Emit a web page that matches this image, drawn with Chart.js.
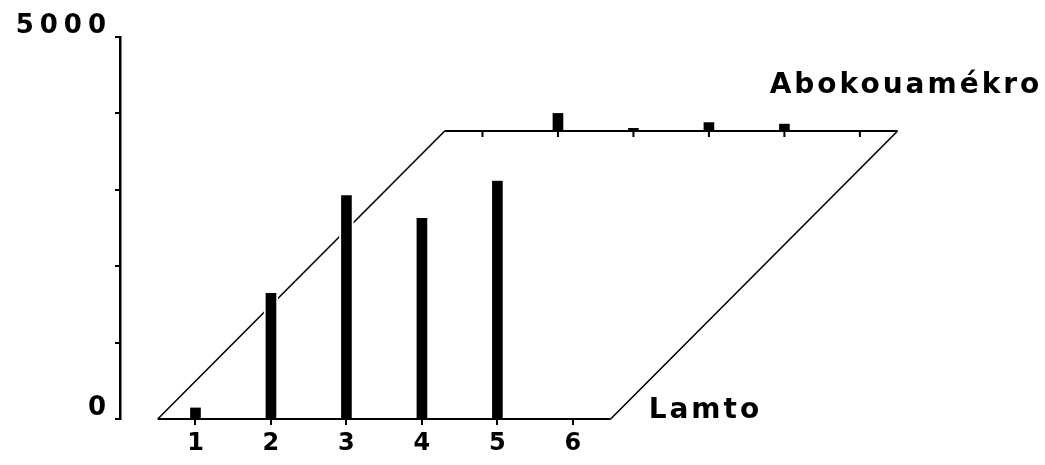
<!DOCTYPE html>
<html>
<head>
<meta charset="utf-8">
<script src="https://cdn.jsdelivr.net/npm/chart.js@4"></script>
<style>
  body { margin: 0; background: #fff; }
</style>
</head>
<body>
<canvas id="chart" width="1045" height="465"></canvas>
<script>
// Data
const categories = ["1", "2", "3", "4", "5", "6"];
const seriesNames = ["Lamto", "Abokouamékro"];
const lamto = [150, 1650, 2930, 2630, 3120, 0];
const abokouamekro = [0, 230, 35, 110, 90, 0];
const yTicks = [0, 1000, 2000, 3000, 4000, 5000];
const yTickLabels = ["0", "", "", "", "", "5000"];

// back row is drawn shifted by this (pixels)
const depth = { dx: 287, dy: -288 };
const fontFamily = "'DejaVu Sans', 'Liberation Sans', sans-serif";
const axisSpacing = 6;

const points = (vals) => categories.map((c, i) => ({ x: Number(c), y: vals[i] }));

const floorPlugin = {
  id: "floor",
  beforeDraw(chart) {
    chart.ctx.letterSpacing = axisSpacing + "px";
  },
  beforeDatasetsDraw(chart) {
    const { ctx, scales: { x, y } } = chart;
    const x0 = x.getPixelForValue(Number(categories[0]) - 0.5);
    const x1 = x.getPixelForValue(Number(categories[categories.length - 1]) + 0.5);
    const y0 = y.getPixelForValue(0);
    ctx.save();
    ctx.strokeStyle = "#000";
    ctx.lineWidth = 1.6;
    ctx.beginPath();
    ctx.moveTo(x0, y0);
    ctx.lineTo(x0 + depth.dx, y0 + depth.dy);
    ctx.moveTo(x1, y0);
    ctx.lineTo(x1 + depth.dx, y0 + depth.dy);
    ctx.stroke();
    ctx.restore();
  },
  beforeDatasetDraw(chart, args) {
    if (args.index === 1) {
      chart.ctx.save();
      chart.ctx.translate(depth.dx, depth.dy);
    }
  },
  afterDatasetDraw(chart, args) {
    if (args.index === 1) chart.ctx.restore();
  },
  afterDatasetsDraw(chart) {
    const { ctx, scales: { x, y } } = chart;
    const x0 = x.getPixelForValue(Number(categories[0]) - 0.5);
    const x1 = x.getPixelForValue(Number(categories[categories.length - 1]) + 0.5);
    const y0 = y.getPixelForValue(0);
    ctx.save();
    ctx.strokeStyle = "#000";
    ctx.lineWidth = 2.2;
    ctx.beginPath();
    ctx.moveTo(x0, y0);
    ctx.lineTo(x1, y0);
    ctx.moveTo(x0 + depth.dx, y0 + depth.dy);
    ctx.lineTo(x1 + depth.dx, y0 + depth.dy);
    ctx.stroke();
    // tick marks under the back row
    ctx.lineWidth = 2;
    ctx.beginPath();
    categories.forEach((c) => {
      const px = x.getPixelForValue(Number(c)) + depth.dx;
      ctx.moveTo(px, y0 + depth.dy);
      ctx.lineTo(px, y0 + depth.dy + 6);
    });
    ctx.stroke();
    // series names
    ctx.fillStyle = "#000";
    ctx.font = "bold 28px " + fontFamily;
    ctx.letterSpacing = "3px";
    ctx.textAlign = "left";
    ctx.textBaseline = "alphabetic";
    ctx.fillText(seriesNames[0], x1 + 38, y0 - 1);
    ctx.fillText(seriesNames[1], x1 + depth.dx - 128, y0 + depth.dy - 38);
    ctx.restore();
  },
};

new Chart(document.getElementById("chart"), {
  type: "bar",
  data: {
    datasets: [
      {
        label: seriesNames[0],
        data: points(lamto),
        backgroundColor: "#000",
        borderColor: "#fff",
        borderWidth: { left: 2, right: 2, top: 0, bottom: 0 },
        borderSkipped: false,
        barThickness: 14,
      },
      {
        label: seriesNames[1],
        data: points(abokouamekro),
        backgroundColor: "#000",
        borderWidth: 0,
        barThickness: 10,
      },
    ],
  },
  options: {
    responsive: false,
    animation: false,
    clip: false,
    layout: { padding: { top: 37, right: 140, left: 0, bottom: 0 } },
    datasets: { bar: { grouped: false } },
    plugins: { legend: { display: false }, tooltip: { enabled: false } },
    scales: {
      x: {
        type: "linear",
        offset: false,
        min: 0,
        max: 10.4,
        afterFit: (s) => { s.height = 46; },
        afterBuildTicks: (s) => { s.ticks = categories.map((c) => ({ value: Number(c) })); },
        grid: { offset: false, drawOnChartArea: false, tickLength: 6, color: "#000", lineWidth: 2 },
        border: { display: false },
        ticks: {
          color: "#000",
          font: { size: 24, weight: "bold", family: fontFamily },
          padding: 4,
          labelOffset: axisSpacing / 2,
          maxRotation: 0,
          callback: (v) => String(v),
        },
      },
      y: {
        min: 0,
        max: 5000,
        afterFit: (s) => { s.width = 120; },
        afterBuildTicks: (s) => { s.ticks = yTicks.map((v) => ({ value: v })); },
        grid: { drawOnChartArea: false, tickLength: 5, color: "#000", lineWidth: 2 },
        border: { display: true, color: "#000", width: 2.5 },
        ticks: {
          color: "#000",
          font: { size: 26, weight: "bold", family: fontFamily },
          padding: 3,
          labelOffset: -11,
          callback: (v, i) => yTickLabels[i],
        },
      },
    },
  },
  plugins: [floorPlugin],
});
</script>
</body>
</html>
